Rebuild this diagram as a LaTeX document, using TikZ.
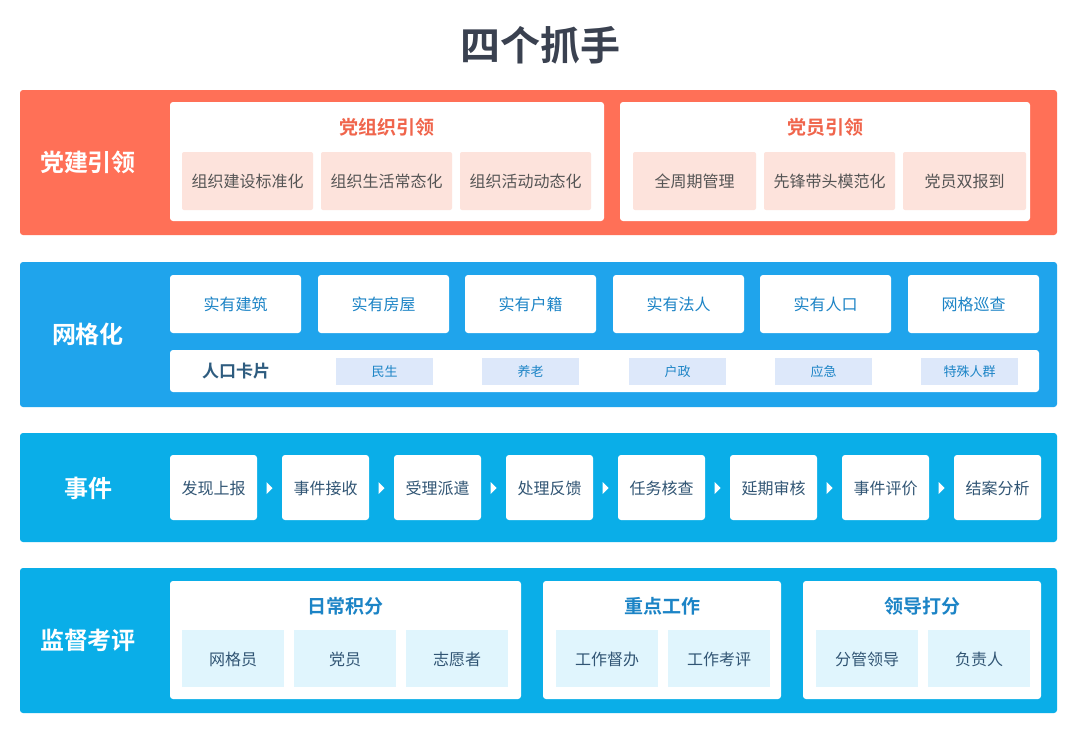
\documentclass[tikz,border=0pt]{standalone}
\usepackage{fontspec}
\setmainfont{Noto Sans CJK SC}
\newfontfamily\cjkb{Noto Sans CJK SC Bold}
\definecolor{org}{HTML}{FF7057}
\definecolor{orgt}{HTML}{F0654C}
\definecolor{pink}{HTML}{FDE3DC}
\definecolor{blueA}{HTML}{1FA4EC}
\definecolor{blueB}{HTML}{0AAEE8}
\definecolor{bluet}{HTML}{1C84C6}
\definecolor{tag}{HTML}{DDE8FA}
\definecolor{lite}{HTML}{E0F5FD}
\definecolor{ttl}{HTML}{3A4150}
\definecolor{gr}{HTML}{555555}
\begin{document}
\begin{tikzpicture}[x=1pt,y=-1pt,
 band/.style={rounded corners=3pt},
 wbox/.style={fill=white,rounded corners=3pt},
 lbl/.style={text=white,font=\cjkb\fontsize{24}{24}\selectfont},
 sub/.style={font=\cjkb\fontsize{19}{19}\selectfont},
 item/.style={font=\fontsize{16}{16}\selectfont}]
\useasboundingbox (0,0) rectangle (1080,736);
\fill[white] (0,0) rectangle (1080,736);
\node[text=ttl,font=\cjkb\fontsize{40}{40}\selectfont] (title) at (540,45) {四个抓手};
% band 1
\fill[org,band] (20,90) rectangle (1057,235);
\node[lbl] (l1) at (88,162) {党建引领};
\fill[wbox] (170,102) rectangle (604,221);
\fill[wbox] (620,102) rectangle (1030,221);
\node[sub,text=orgt] (s11) at (387,127) {党组织引领};
\node[sub,text=orgt] (s12) at (825,127) {党员引领};
\foreach \a/\b/\t [count=\i] in {182/313/组织建设标准化,321/452/组织生活常态化,460/591/组织活动动态化,633/756/全周期管理,764/895/先锋带头模范化,903/1026/党员双报到}{
 \fill[pink,rounded corners=2pt] (\a,152) rectangle (\b,210);
 \node[item,text=gr] (p\i) at ({(\a+\b)/2},181) {\t};}
% band 2
\fill[blueA,band] (20,262) rectangle (1057,407);
\node[lbl] (l2) at (88,334) {网格化};
\foreach \a/\b/\t [count=\i] in {170/301/实有建筑,318/449/实有房屋,465/596/实有户籍,613/744/实有法人,760/891/实有人口,908/1039/网格巡查}{
 \fill[wbox] (\a,275) rectangle (\b,333);
 \node[item,text=bluet] (g\i) at ({(\a+\b)/2},304) {\t};}
\fill[wbox] (170,350) rectangle (1039,392);
\node[font=\cjkb\fontsize{17}{17}\selectfont,text=ttl!60!bluet] (card) at (236,371) {人口卡片};
\foreach \a/\b/\t [count=\i] in {336/433/民生,482/579/养老,629/726/户政,775/872/应急,921/1018/特殊人群}{
 \fill[tag] (\a,358) rectangle (\b,385);
 \node[font=\fontsize{13}{13}\selectfont,text=bluet] (t\i) at ({(\a+\b)/2},371.5) {\t};}
% band 3
\fill[blueB,band] (20,433) rectangle (1057,542);
\node[lbl] (l3) at (88,488) {事件};
\foreach \a/\b/\t [count=\i] in {170/257/发现上报,282/369/事件接收,394/481/受理派遣,506/593/处理反馈,618/705/任务核查,730/817/延期审核,842/929/事件评价,954/1041/结案分析}{
 \fill[wbox] (\a,455) rectangle (\b,520);
 \node[item,text=ttl!70!bluet] (e\i) at ({(\a+\b)/2},488) {\t};}
\foreach \x in {269.5,381.5,493.5,605.5,717.5,829.5,941.5}{
 \fill[white] (\x-3,482) -- (\x+3,488) -- (\x-3,494) -- cycle;}
% band 4
\fill[blueB,band] (20,568) rectangle (1057,713);
\node[lbl] (l4) at (88,640) {监督考评};
\fill[wbox] (170,581) rectangle (521,699);
\fill[wbox] (543,581) rectangle (781,699);
\fill[wbox] (803,581) rectangle (1041,699);
\node[sub,text=bluet] (s41) at (345,606) {日常积分};
\node[sub,text=bluet] (s42) at (662,606) {重点工作};
\node[sub,text=bluet] (s43) at (922,606) {领导打分};
\foreach \a/\b/\t [count=\i] in {182/284/网格员,294/396/党员,406/508/志愿者,556/658/工作督办,668/770/工作考评,816/918/分管领导,928/1030/负责人}{
 \fill[lite] (\a,630) rectangle (\b,687);
 \node[item,text=ttl!70!bluet] (m\i) at ({(\a+\b)/2},659) {\t};}
\end{tikzpicture}
\end{document}
